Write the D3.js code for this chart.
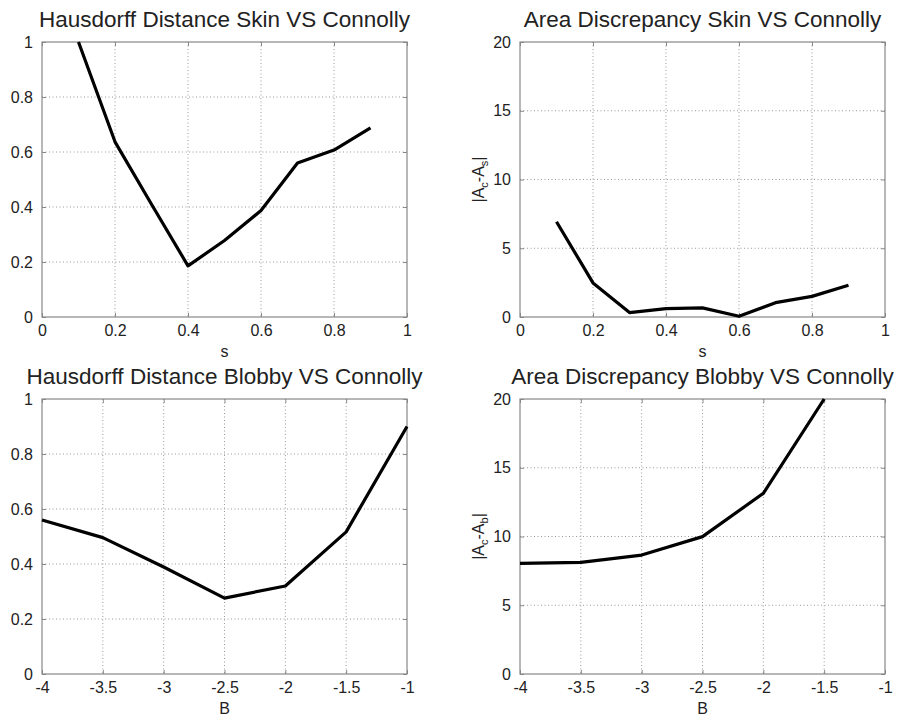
<!DOCTYPE html>
<html>
<head>
<meta charset="utf-8">
<script src="https://cdn.jsdelivr.net/npm/d3@7/dist/d3.min.js"></script>
<style>
  html, body { margin: 0; padding: 0; background: #fff; }
  svg { display: block; }
</style>
</head>
<body>
<svg id="chart" width="903" height="717" viewBox="0 0 903 717"></svg>
<script>
// data
const sValues = [0.1, 0.2, 0.3, 0.4, 0.5, 0.6, 0.7, 0.8, 0.9];
const hausdorffSkin = [1.0, 0.637, 0.41, 0.186, 0.278, 0.387, 0.56, 0.607, 0.688];
const areaSkin = [6.93, 2.48, 0.32, 0.61, 0.66, 0.05, 1.04, 1.5, 2.31];

const bValues = [-4, -3.5, -3, -2.5, -2, -1.5, -1];
const hausdorffBlobby = [0.56, 0.496, 0.389, 0.276, 0.32, 0.517, 0.9];
const bValuesArea = [-4, -3.5, -3, -2.5, -2, -1.5];
const areaBlobby = [8.05, 8.12, 8.65, 9.99, 13.14, 20];

const sTicks = [0, 0.2, 0.4, 0.6, 0.8, 1];
const bTicks = [-4, -3.5, -3, -2.5, -2, -1.5, -1];
const unitTicks = [0, 0.2, 0.4, 0.6, 0.8, 1];
const areaTicks = [0, 5, 10, 15, 20];

const panels = [
    { title: 'Hausdorff Distance Skin VS Connolly', x: sValues, y: hausdorffSkin,
      xDomain: [0, 1], yDomain: [0, 1], xTicks: sTicks, yTicks: unitTicks,
      xLabel: 's', yLabel: null, left: 42, top: 42 },
    { title: 'Area Discrepancy Skin VS Connolly', x: sValues, y: areaSkin,
      xDomain: [0, 1], yDomain: [0, 20], xTicks: sTicks, yTicks: areaTicks,
      xLabel: 's', yLabel: 's', left: 520, top: 42 },
    { title: 'Hausdorff Distance Blobby VS Connolly', x: bValues, y: hausdorffBlobby,
      xDomain: [-4, -1], yDomain: [0, 1], xTicks: bTicks, yTicks: unitTicks,
      xLabel: 'B', yLabel: null, left: 42, top: 399 },
    { title: 'Area Discrepancy Blobby VS Connolly', x: bValuesArea, y: areaBlobby,
      xDomain: [-4, -1], yDomain: [0, 20], xTicks: bTicks, yTicks: areaTicks,
      xLabel: 'B', yLabel: 'b', left: 520, top: 399 }
];

const innerWidth = 365;
const innerHeight = 275;
const tickLen = 4;
const font = '"Liberation Sans", Arial, sans-serif';
const textColor = '#222';

const svg = d3.select('#chart');
svg.append('rect').attr('width', 903).attr('height', 717).attr('fill', '#fff');

const fmt = d => String(d);

panels.forEach(p => {
    const g = svg.append('g').attr('transform', `translate(${p.left},${p.top})`);

    const xScale = d3.scaleLinear().domain(p.xDomain).range([0, innerWidth]);
    const yScale = d3.scaleLinear().domain(p.yDomain).range([innerHeight, 0]);

    // grid
    const grid = g.append('g')
        .attr('stroke', '#999')
        .attr('stroke-dasharray', '1,2.5');
    grid.selectAll('.gx')
        .data(p.xTicks.slice(1, -1))
        .join('line')
            .classed('gx', true)
            .attr('x1', d => xScale(d)).attr('x2', d => xScale(d))
            .attr('y1', 0).attr('y2', innerHeight);
    grid.selectAll('.gy')
        .data(p.yTicks.slice(1, -1))
        .join('line')
            .classed('gy', true)
            .attr('x1', 0).attr('x2', innerWidth)
            .attr('y1', d => yScale(d)).attr('y2', d => yScale(d));

    // inward ticks on all sides, labels only bottom and left
    const xAxisB = d3.axisBottom(xScale).tickValues(p.xTicks).tickSize(-tickLen).tickFormat(fmt).tickPadding(8);
    const xAxisT = d3.axisTop(xScale).tickValues(p.xTicks).tickSize(-tickLen);
    const yAxisL = d3.axisLeft(yScale).tickValues(p.yTicks).tickSize(-tickLen).tickFormat(fmt).tickPadding(9);
    const yAxisR = d3.axisRight(yScale).tickValues(p.yTicks).tickSize(-tickLen);

    const labelled = [
        g.append('g').attr('transform', `translate(0,${innerHeight})`).call(xAxisB),
        g.append('g').call(yAxisL)
    ];
    const bare = [
        g.append('g').call(xAxisT),
        g.append('g').attr('transform', `translate(${innerWidth},0)`).call(yAxisR)
    ];
    labelled.concat(bare).forEach(a => {
        a.select('.domain').remove();
        a.selectAll('line').attr('stroke', '#888');
        a.attr('font-family', font).attr('font-size', 16);
    });
    labelled.forEach(a => a.selectAll('text').attr('fill', textColor));
    bare.forEach(a => a.selectAll('.tick text').remove());

    g.append('rect')
        .attr('x', 0).attr('y', 0)
        .attr('width', innerWidth).attr('height', innerHeight)
        .attr('fill', 'none')
        .attr('stroke', '#888')
        .attr('stroke-width', 1.2);

    // series, clipped to the box
    const clipId = 'clip-' + p.left + '-' + p.top;
    g.append('clipPath').attr('id', clipId)
        .append('rect').attr('x', -2).attr('y', -1).attr('width', innerWidth + 4).attr('height', innerHeight + 2);

    const line = d3.line()
        .x((d, i) => xScale(p.x[i]))
        .y(d => yScale(d));

    g.append('path')
        .datum(p.y)
        .attr('fill', 'none')
        .attr('stroke', '#000')
        .attr('stroke-width', 3.2)
        .attr('stroke-linejoin', 'round')
        .attr('clip-path', `url(#${clipId})`)
        .attr('d', line);

    g.append('text')
        .attr('x', innerWidth / 2)
        .attr('y', -15)
        .attr('text-anchor', 'middle')
        .attr('font-family', font)
        .attr('font-size', 22.5)
        .attr('fill', textColor)
        .text(p.title);

    g.append('text')
        .attr('x', innerWidth / 2)
        .attr('y', innerHeight + 40)
        .attr('text-anchor', 'middle')
        .attr('font-family', font)
        .attr('font-size', 16)
        .attr('fill', textColor)
        .text(p.xLabel);

    if (p.yLabel) {
        const yl = g.append('text')
            .attr('transform', `translate(${-36},${innerHeight / 2}) rotate(-90)`)
            .attr('text-anchor', 'middle')
            .attr('font-family', font)
            .attr('font-size', 16)
            .attr('fill', textColor);
        yl.append('tspan').text('|A');
        yl.append('tspan').attr('dy', 4).attr('font-size', 11).text('c');
        yl.append('tspan').attr('dy', -4).text('-A');
        yl.append('tspan').attr('dy', 4).attr('font-size', 11).text(p.yLabel);
        yl.append('tspan').attr('dy', -4).text('|');
    }
});
</script>
</body>
</html>
